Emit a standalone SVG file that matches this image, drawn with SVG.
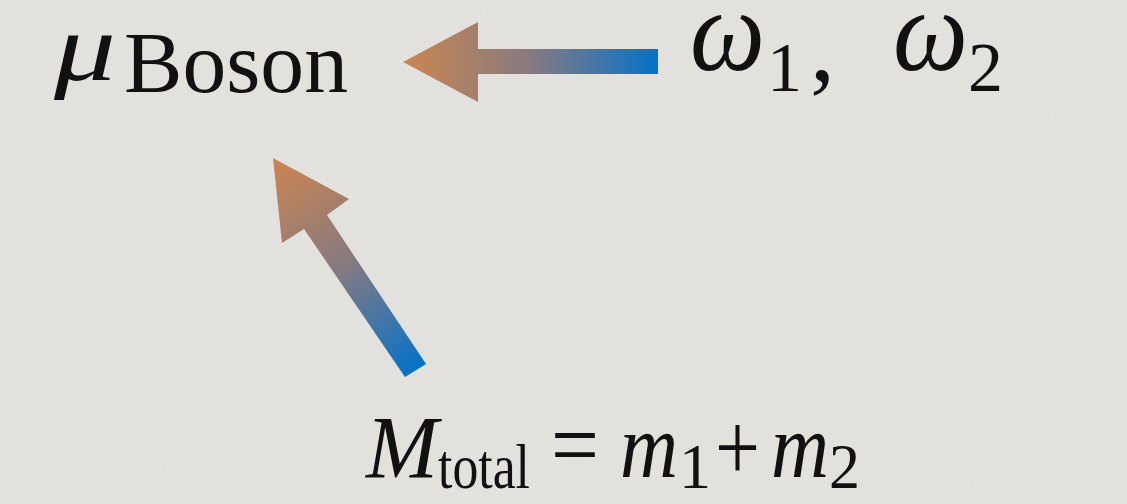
<svg xmlns="http://www.w3.org/2000/svg" width="1127" height="504" viewBox="0 0 1127 504">
<defs>
<style>
text{font-family:"Liberation Serif","DejaVu Serif",serif;fill:#111}
.mi{font-style:italic}
</style>
<linearGradient id="gH" gradientUnits="userSpaceOnUse" x1="403" y1="62" x2="658" y2="62">
<stop offset="0" stop-color="#cc8550"/>
<stop offset="0.5" stop-color="#877a80"/>
<stop offset="1" stop-color="#0572c8"/>
</linearGradient>
<linearGradient id="gD" gradientUnits="userSpaceOnUse" x1="273" y1="158" x2="415" y2="371">
<stop offset="0" stop-color="#cc8550"/>
<stop offset="0.5" stop-color="#877a80"/>
<stop offset="1" stop-color="#0572c8"/>
</linearGradient>
<filter id="tex" x="0" y="0" width="100%" height="100%">
<feTurbulence type="fractalNoise" baseFrequency="0.7" numOctaves="2" seed="3" result="n"/>
<feColorMatrix in="n" type="matrix" values="0 0 0 0 0.45  0 0 0 0 0.45  0 0 0 0 0.43  0 0 0 0.12 0"/>
</filter>
</defs>
<rect width="1127" height="504" fill="#e6e4e0"/>
<rect width="1127" height="504" filter="url(#tex)"/>
<g id="connectors">
<polygon fill="url(#gH)" points="403,62 478,22 478,49 658,49 658,74 478,74 478,102"/>
<polygon fill="url(#gD)" points="273,158 349,199 327,215 426,364 405,377 304,229 282,243"/>
</g>
<g id="mu_boson">
<text><tspan class="mi" x="54" y="80" font-size="95" textLength="62" lengthAdjust="spacingAndGlyphs">μ</tspan><tspan x="124" y="92" font-size="86" textLength="224" lengthAdjust="spacingAndGlyphs">Boson</tspan></text>
</g>
<g id="omegas">
<text><tspan class="mi" x="690" y="70" font-size="116" textLength="75" lengthAdjust="spacingAndGlyphs">ω</tspan><tspan x="767" y="91" font-size="70">1</tspan><tspan x="810" y="80" font-size="100">,</tspan><tspan class="mi" x="893" y="70" font-size="116" textLength="75" lengthAdjust="spacingAndGlyphs">ω</tspan><tspan x="968" y="91" font-size="70" textLength="35" lengthAdjust="spacingAndGlyphs">2</tspan></text>
</g>
<g id="m_total">
<text><tspan class="mi" x="366" y="477" font-size="88" textLength="72" lengthAdjust="spacingAndGlyphs">M</tspan><tspan x="438" y="488" font-size="64" textLength="92" lengthAdjust="spacingAndGlyphs">total</tspan><tspan x="551" y="477" font-size="97" textLength="48" lengthAdjust="spacingAndGlyphs">=</tspan><tspan class="mi" x="620" y="477" font-size="90" textLength="58" lengthAdjust="spacingAndGlyphs">m</tspan><tspan x="679" y="488" font-size="64">1</tspan><tspan x="715" y="480" font-size="97" textLength="45" lengthAdjust="spacingAndGlyphs">+</tspan><tspan class="mi" x="771" y="477" font-size="90" textLength="58" lengthAdjust="spacingAndGlyphs">m</tspan><tspan x="829" y="488" font-size="64" textLength="31" lengthAdjust="spacingAndGlyphs">2</tspan></text>
</g>
</svg>
